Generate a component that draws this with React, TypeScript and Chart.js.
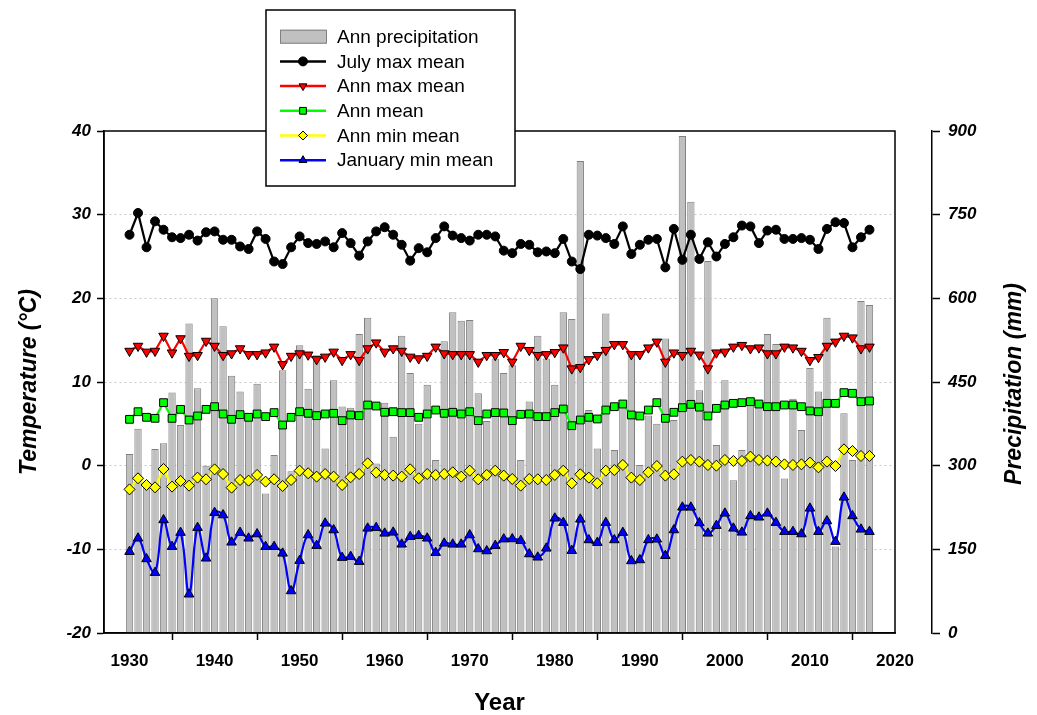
import React, { useEffect, useRef } from 'react';
import { Chart, registerables } from 'chart.js';

Chart.register(...registerables);

const years = [
  1930, 1931, 1932, 1933, 1934, 1935, 1936, 1937, 1938, 1939,
  1940, 1941, 1942, 1943, 1944, 1945, 1946, 1947, 1948, 1949,
  1950, 1951, 1952, 1953, 1954, 1955, 1956, 1957, 1958, 1959,
  1960, 1961, 1962, 1963, 1964, 1965, 1966, 1967, 1968, 1969,
  1970, 1971, 1972, 1973, 1974, 1975, 1976, 1977, 1978, 1979,
  1980, 1981, 1982, 1983, 1984, 1985, 1986, 1987, 1988, 1989,
  1990, 1991, 1992, 1993, 1994, 1995, 1996, 1997, 1998, 1999,
  2000, 2001, 2002, 2003, 2004, 2005, 2006, 2007, 2008, 2009,
  2010, 2011, 2012, 2013, 2014, 2015, 2016, 2017,
];

const annPrecip = [
  321, 366, 270, 330, 340, 431, 373, 555, 439, 300,
  600, 550, 461, 433, 383, 447, 250, 319, 471, 290,
  516, 438, 498, 331, 453, 406, 404, 536, 565, 304,
  413, 352, 533, 466, 375, 445, 310, 523, 575, 560,
  561, 430, 380, 492, 466, 480, 310, 415, 533, 492,
  445, 575, 563, 846, 400, 331, 573, 328, 405, 498,
  301, 390, 375, 528, 382, 891, 773, 435, 667, 337,
  453, 274, 328, 420, 405, 536, 518, 277, 420, 364,
  475, 433, 565, 155, 394, 310, 595, 588,
];

const julyMaxMean = [
  27.6, 30.2, 26.1, 29.2, 28.2, 27.3, 27.2, 27.6, 26.9, 27.9,
  28.0, 27.0, 27.0, 26.2, 25.9, 28.0, 27.1, 24.4, 24.1, 26.1,
  27.4, 26.6, 26.5, 26.8, 26.1, 27.8, 26.6, 25.1, 26.8, 28.0,
  28.5, 27.6, 26.4, 24.5, 26.0, 25.5, 27.2, 28.6, 27.5, 27.2,
  26.9, 27.6, 27.6, 27.4, 25.7, 25.4, 26.5, 26.4, 25.5, 25.6,
  25.4, 27.1, 24.4, 23.5, 27.6, 27.5, 27.2, 26.5, 28.6, 25.3,
  26.4, 27.0, 27.1, 23.7, 28.3, 24.6, 27.6, 24.7, 26.7, 25.0,
  26.5, 27.3, 28.7, 28.6, 26.6, 28.1, 28.2, 27.1, 27.1, 27.2,
  27.0, 25.9, 28.3, 29.1, 29.0, 26.1, 27.3, 28.2,
];

const annMaxMean = [
  13.7, 14.3, 13.6, 13.7, 15.5, 13.5, 15.2, 13.1, 13.2, 14.9,
  14.3, 13.2, 13.4, 14.0, 13.3, 13.3, 13.5, 14.2, 12.1, 13.1,
  13.4, 13.25, 12.7, 13.0, 13.6, 12.6, 13.3, 12.6, 14.0, 14.7,
  13.6, 14.0, 13.7, 13.0, 12.8, 13.1, 14.2, 13.4, 13.3, 13.3,
  13.3, 12.4, 13.2, 13.2, 13.55, 12.4, 14.3, 13.8, 13.2, 13.3,
  13.55, 14.1, 11.6, 11.75, 12.7, 13.2, 13.8, 14.5, 14.5, 13.3,
  13.3, 14.1, 14.8, 12.4, 13.5, 13.2, 13.7, 13.25, 11.6, 13.5,
  13.6, 14.2, 14.4, 14.0, 14.1, 13.4, 13.4, 14.2, 14.1, 13.7,
  12.6, 12.95, 14.3, 14.8, 15.5, 15.3, 14.0, 14.2,
];

const annMean = [
  5.54, 6.45, 5.78, 5.66, 7.53, 5.66, 6.73, 5.46, 5.94, 6.73,
  7.05, 6.18, 5.54, 6.1, 5.78, 6.18, 5.86, 6.34, 4.86, 5.78,
  6.45, 6.26, 5.98, 6.18, 6.26, 5.38, 6.06, 5.98, 7.25, 7.13,
  6.38, 6.45, 6.34, 6.34, 5.78, 6.18, 6.65, 6.26, 6.38, 6.18,
  6.45, 5.38, 6.18, 6.34, 6.3, 5.38, 6.14, 6.18, 5.86, 5.86,
  6.34, 6.77, 4.78, 5.46, 5.78, 5.58, 6.65, 7.05, 7.37, 6.06,
  5.94, 6.65, 7.53, 5.66, 6.38, 6.93, 7.33, 7.0, 5.94, 6.85,
  7.25, 7.45, 7.53, 7.65, 7.37, 7.05, 7.05, 7.25, 7.25, 7.05,
  6.54, 6.45, 7.45, 7.45, 8.73, 8.65, 7.65, 7.73,
];

const annMinMean = [
  -2.83, -1.51, -2.31, -2.59, -0.4, -2.5, -1.83, -2.39, -1.43, -1.63,
  -0.44, -1.0, -2.63, -1.71, -1.79, -1.11, -1.91, -1.63, -2.43, -1.71,
  -0.6, -0.91, -1.31, -1.0, -1.31, -2.31, -1.39, -1.0, 0.28, -0.83,
  -1.11, -1.19, -1.31, -0.44, -1.51, -1.0, -1.11, -1.0, -0.79, -1.31,
  -0.6, -1.63, -1.11, -0.6, -1.19, -1.59, -2.39, -1.59, -1.63, -1.71,
  -1.11, -0.6, -2.11, -1.03, -1.43, -2.11, -0.6, -0.52, 0.08, -1.43,
  -1.71, -0.79, -0.04, -1.19, -1.03, 0.48, 0.68, 0.48, 0.08, 0.0,
  0.68, 0.56, 0.56, 1.08, 0.68, 0.6, 0.48, 0.16, 0.08, 0.16,
  0.36, -0.2, 0.48, -0.04, 1.95, 1.75, 1.16, 1.16,
];

const janMinMean = [
  -10.28, -8.68, -11.15, -12.79, -6.49, -9.68, -8.0, -15.37, -7.41, -11.07,
  -5.62, -5.9, -9.16, -8.0, -8.68, -8.17, -9.68, -9.68, -10.48, -14.98,
  -11.35, -8.29, -9.56, -6.89, -7.69, -10.99, -10.87, -11.47, -7.49, -7.41,
  -8.09, -7.97, -9.4, -8.49, -8.37, -8.68, -10.4, -9.28, -9.4, -9.4,
  -8.29, -9.96, -10.2, -9.56, -8.78, -8.76, -8.96, -10.56, -10.95, -9.88,
  -6.29, -6.81, -10.16, -6.41, -8.88, -9.2, -6.81, -8.88, -8.0, -11.39,
  -11.27, -8.88, -8.8, -10.76, -7.69, -4.98, -4.98, -6.85, -8.09, -7.17,
  -5.7, -7.49, -7.97, -6.01, -6.17, -5.7, -6.81, -7.89, -7.89, -8.17,
  -5.1, -7.89, -6.61, -9.08, -3.78, -6.01, -7.61, -7.89,
];

const xTickValues = [1930, 1940, 1950, 1960, 1970, 1980, 1990, 2000, 2010, 2020];
const tempTickValues = [-20, -10, 0, 10, 20, 30, 40];
const precipTickValues = [0, 150, 300, 450, 600, 750, 900];

const seriesLabels = [
  'Ann precipitation',
  'July max mean',
  'Ann max mean',
  'Ann mean',
  'Ann min mean',
  'January min mean',
];

const SANS = "'Liberation Sans', Arial, Helvetica, sans-serif";
const NARROW = "'Liberation Sans Narrow', 'Arial Narrow', 'Liberation Sans', Arial, sans-serif";

type MarkerKind = 'circle' | 'triDown' | 'square' | 'diamond' | 'triUp';

function drawMarker(ctx: CanvasRenderingContext2D, kind: MarkerKind, x: number, y: number, r: number, fill: string) {
  ctx.beginPath();
  if (kind === 'circle') {
    ctx.arc(x, y, r, 0, Math.PI * 2);
  } else if (kind === 'square') {
    ctx.rect(x - r * 0.75, y - r * 0.75, r * 1.5, r * 1.5);
  } else if (kind === 'diamond') {
    ctx.moveTo(x, y - r);
    ctx.lineTo(x + r, y);
    ctx.lineTo(x, y + r);
    ctx.lineTo(x - r, y);
    ctx.closePath();
  } else if (kind === 'triDown') {
    ctx.moveTo(x - r * 0.87, y - r * 0.5);
    ctx.lineTo(x + r * 0.87, y - r * 0.5);
    ctx.lineTo(x, y + r);
    ctx.closePath();
  } else {
    ctx.moveTo(x - r * 0.87, y + r * 0.5);
    ctx.lineTo(x + r * 0.87, y + r * 0.5);
    ctx.lineTo(x, y - r);
    ctx.closePath();
  }
  ctx.fillStyle = fill;
  ctx.fill();
  ctx.lineWidth = 1;
  ctx.strokeStyle = '#000';
  ctx.stroke();
}

const legendMarkers: (MarkerKind | null)[] = [null, 'circle', 'triDown', 'square', 'diamond', 'triUp'];

const framePlugin = {
  id: 'frameBox',
  afterDatasetsDraw(chart: any) {
    const { ctx, chartArea: a } = chart;
    ctx.save();
    ctx.strokeStyle = '#000';
    ctx.lineWidth = 1.5;
    ctx.strokeRect(a.left, a.top, a.right - a.left, a.bottom - a.top);
    ctx.restore();
  },
};

const overlayPlugin = {
  id: 'overlay',
  afterDraw(chart: any) {
    const { ctx } = chart;
    const datasets = chart.data.datasets;
    ctx.save();
    // right axis title, reading bottom-to-top
    ctx.translate(1015, 384);
    ctx.rotate(-Math.PI / 2);
    ctx.font = `italic bold 23px ${SANS}`;
    ctx.fillStyle = '#000';
    ctx.textAlign = 'center';
    ctx.textBaseline = 'middle';
    ctx.fillText('Precipitation (mm)', 0, 0);
    ctx.restore();

    // legend box
    ctx.save();
    const bx = 266, by = 10, bw = 249, bh = 176;
    ctx.fillStyle = '#fff';
    ctx.fillRect(bx, by, bw, bh);
    ctx.strokeStyle = '#000';
    ctx.lineWidth = 1.5;
    ctx.strokeRect(bx, by, bw, bh);
    const sx0 = 280, sx1 = 326;
    datasets.forEach((ds: any, i: number) => {
      const y = 36.7 + i * 24.7;
      const kind = legendMarkers[i];
      if (kind === null) {
        ctx.fillStyle = ds.backgroundColor;
        ctx.fillRect(sx0, y - 7, sx1 - sx0, 14);
        ctx.strokeStyle = ds.borderColor;
        ctx.lineWidth = 1;
        ctx.strokeRect(sx0 + 0.5, y - 6.5, sx1 - sx0, 13);
      } else {
        ctx.beginPath();
        ctx.moveTo(sx0, y);
        ctx.lineTo(sx1, y);
        ctx.strokeStyle = ds.borderColor;
        ctx.lineWidth = 2.5;
        ctx.stroke();
        drawMarker(ctx, kind, (sx0 + sx1) / 2, y, 4.5, ds.pointBackgroundColor);
      }
      ctx.fillStyle = '#000';
      ctx.font = `19px ${SANS}`;
      ctx.textAlign = 'left';
      ctx.textBaseline = 'middle';
      ctx.fillText(ds.label, 337, y + 1);
    });
    ctx.restore();
  },
};

function lineDataset(label: string, values: number[], color: string, pointStyle: string, radius: number, rotation: number, tension: number) {
  return {
    type: 'line' as const,
    label,
    data: years.map((x, i) => ({ x, y: values[i] })),
    xAxisID: 'x',
    yAxisID: 'y',
    borderColor: color,
    backgroundColor: color,
    borderWidth: 2.2,
    pointStyle,
    pointRadius: radius,
    pointRotation: rotation,
    pointBackgroundColor: color,
    pointBorderColor: '#000',
    pointBorderWidth: 1,
    tension,
    fill: false,
    order: 1,
  };
}

export default function App() {
  const canvasRef = useRef<HTMLCanvasElement | null>(null);

  useEffect(() => {
    document.body.style.margin = '0';
    const canvas = canvasRef.current;
    if (!canvas) return;

    const tickFont = { family: SANS, size: 17, weight: 'bold' as const, style: 'italic' as const };

    const chart = new Chart(canvas, {
      type: 'line',
      data: {
        datasets: [
          {
            type: 'bar' as const,
            label: seriesLabels[0],
            data: years.map((x, i) => ({ x, y: annPrecip[i] })),
            xAxisID: 'x',
            yAxisID: 'yP',
            backgroundColor: '#c0c0c0',
            borderColor: '#808080',
            borderWidth: 1,
            barPercentage: 0.86,
            categoryPercentage: 1,
            order: 10,
          } as any,
          lineDataset(seriesLabels[1], julyMaxMean, '#000000', 'circle', 4.5, 0, 0),
          lineDataset(seriesLabels[2], annMaxMean, '#ff0000', 'triangle', 5.5, 180, 0),
          lineDataset(seriesLabels[3], annMean, '#00ff00', 'rect', 5.5, 0, 0),
          lineDataset(seriesLabels[4], annMinMean, '#ffff00', 'rectRot', 5.5, 0, 0),
          lineDataset(seriesLabels[5], janMinMean, '#0000ff', 'triangle', 5.5, 0, 0.4),
        ],
      },
      options: {
        animation: false,
        responsive: false,
        devicePixelRatio: 1,
        layout: { padding: { top: 131, left: 0, right: 0, bottom: 0 } },
        plugins: {
          legend: { display: false },
          tooltip: { enabled: false },
        },
        scales: {
          x: {
            type: 'linear',
            position: 'bottom',
            min: 1927,
            max: 2020,
            offset: false,
            afterBuildTicks: (s: any) => {
              s.ticks = xTickValues.map((v) => ({ value: v }));
            },
            afterFit: (s: any) => {
              s.height = 82;
            },
            grid: {
              drawOnChartArea: false,
              drawTicks: true,
              tickLength: 7,
              tickColor: '#000',
              tickWidth: 1.5,
            },
            border: { display: true, color: '#000', width: 1.5 },
            ticks: {
              font: { family: NARROW, size: 17, weight: 'bold' },
              color: '#000',
              padding: 11,
              maxRotation: 0,
              autoSkip: false,
              callback: (v: any) => String(v),
            },
            title: {
              display: true,
              text: 'Year',
              color: '#000',
              font: { family: NARROW, size: 24, weight: 'bold', lineHeight: 1 },
              padding: { top: 0, bottom: 0 },
            },
          },
          y: {
            type: 'linear',
            position: 'left',
            min: -20,
            max: 40,
            afterBuildTicks: (s: any) => {
              s.ticks = tempTickValues.map((v) => ({ value: v }));
            },
            afterFit: (s: any) => {
              s.width = 104;
            },
            grid: {
              color: (c: any) => (c.tick && (c.tick.value === 40 || c.tick.value === -20) ? 'rgba(0,0,0,0)' : '#c8c8c8'),
              lineWidth: 1,
              drawTicks: true,
              tickLength: 7,
              tickColor: '#000',
              tickWidth: 1.5,
            },
            border: { display: true, color: '#000', width: 1.5, dash: [2, 3] },
            ticks: {
              font: tickFont,
              color: '#000',
              padding: 6,
              callback: (v: any) => String(v),
            },
            title: {
              display: true,
              text: 'Temperature (°C)',
              color: '#000',
              font: { family: SANS, size: 23, weight: 'bold', style: 'italic', lineHeight: 1.2 },
              padding: { top: 16, bottom: 0 },
            },
          },
          gap: {
            type: 'linear',
            position: 'right',
            weight: 1,
            display: true,
            grid: { display: false },
            ticks: { display: false },
            border: { display: false },
            afterFit: (s: any) => {
              s.width = 37;
            },
          },
          yP: {
            type: 'linear',
            position: 'right',
            weight: 2,
            min: 0,
            max: 900,
            afterBuildTicks: (s: any) => {
              s.ticks = precipTickValues.map((v) => ({ value: v }));
            },
            afterFit: (s: any) => {
              s.width = 105;
            },
            grid: {
              drawOnChartArea: false,
              drawTicks: true,
              tickLength: 8,
              tickColor: '#000',
              tickWidth: 1.5,
            },
            border: { display: true, color: '#000', width: 1.5 },
            ticks: {
              font: tickFont,
              color: '#000',
              padding: 8,
              callback: (v: any) => String(v),
            },
          },
        } as any,
      },
      plugins: [framePlugin, overlayPlugin],
    });

    return () => {
      chart.destroy();
    };
  }, []);

  return (
    <div style={{ position: 'relative', width: 1037, height: 715, background: '#fff' }}>
      <canvas ref={canvasRef} width={1037} height={715} style={{ display: 'block', width: 1037, height: 715 }} />
    </div>
  );
}
